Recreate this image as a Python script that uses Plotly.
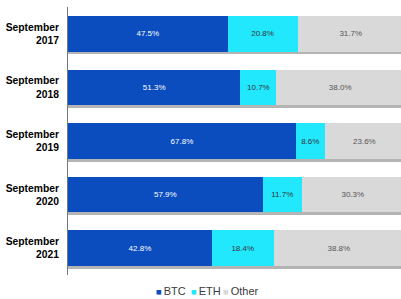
import plotly.graph_objects as go

categories = ["September<br>2017", "September<br>2018", "September<br>2019", "September<br>2020", "September<br>2021"]
btc = [47.5, 51.3, 67.8, 57.9, 42.8]
eth = [20.8, 10.7, 8.6, 11.7, 18.4]
other = [31.7, 38.0, 23.6, 30.3, 38.8]
series_names = ["BTC", "ETH", "Other"]

colors = ["#0B4DBE", "#22E8FE", "#D9D9D9"]
text_colors = ["white", "#333333", "#555555"]
totals = [b + e + o for b, e, o in zip(btc, eth, other)]

fig = go.Figure()
# soft shadow under each row (on primary axis, drawn underneath)
fig.add_trace(go.Bar(
    y=categories, x=totals, orientation="h", yaxis="y", showlegend=False,
    marker=dict(color="#B4B4B4", line=dict(width=0)), width=0.667, offset=-0.333 + 0.05,
    hoverinfo="skip",
))
for name, vals, color, tcolor in zip(series_names, [btc, eth, other], colors, text_colors):
    fig.add_trace(go.Bar(
        y=categories, x=vals, name=name, orientation="h", yaxis="y2", showlegend=False,
        marker=dict(color=color, line=dict(width=0)), width=0.667,
        text=[f"{v:.1f}%" for v in vals], textposition="inside", insidetextanchor="middle",
        textfont=dict(color=tcolor, size=8, family="Liberation Sans"),
        constraintext="none",
    ))

# legend drawn as text annotations (compact, small squares)
legend_x = [0.258, 0.362, 0.459]
for name, color, lx in zip(series_names, colors, legend_x):
    fig.add_annotation(
        xref="paper", yref="paper", x=lx, y=-0.058, xanchor="left", yanchor="middle",
        text=f"<span style='color:{color};font-size:9.5px'>■</span><span style='font-size:7px'> </span>{name}",
        showarrow=False, font=dict(family="Liberation Sans", size=11, color="#3A3A3A"),
    )

fig.update_layout(
    width=401, height=299,
    barmode="stack", bargap=0.333,
    margin=dict(l=68, r=0, t=7, b=24),
    plot_bgcolor="white", paper_bgcolor="white",
    showlegend=False,
    xaxis=dict(range=[0, 99.1], visible=False, showgrid=False),
    yaxis=dict(autorange="reversed", showline=True, linecolor="#777777", linewidth=1,
               ticks="outside", ticklen=6, tickcolor="rgba(0,0,0,0)", showgrid=False, automargin=False,
               tickfont=dict(family="Liberation Sans", size=10.3, color="black", weight="bold")),
    yaxis2=dict(autorange="reversed", overlaying="y", visible=False, showgrid=False,
                matches="y"),
    uniformtext=dict(minsize=7, mode="show"),
)
fig.write_html("out.html", config={"displayModeBar": False},
               post_script="document.body.style.margin='0';document.body.style.overflow='hidden';")
